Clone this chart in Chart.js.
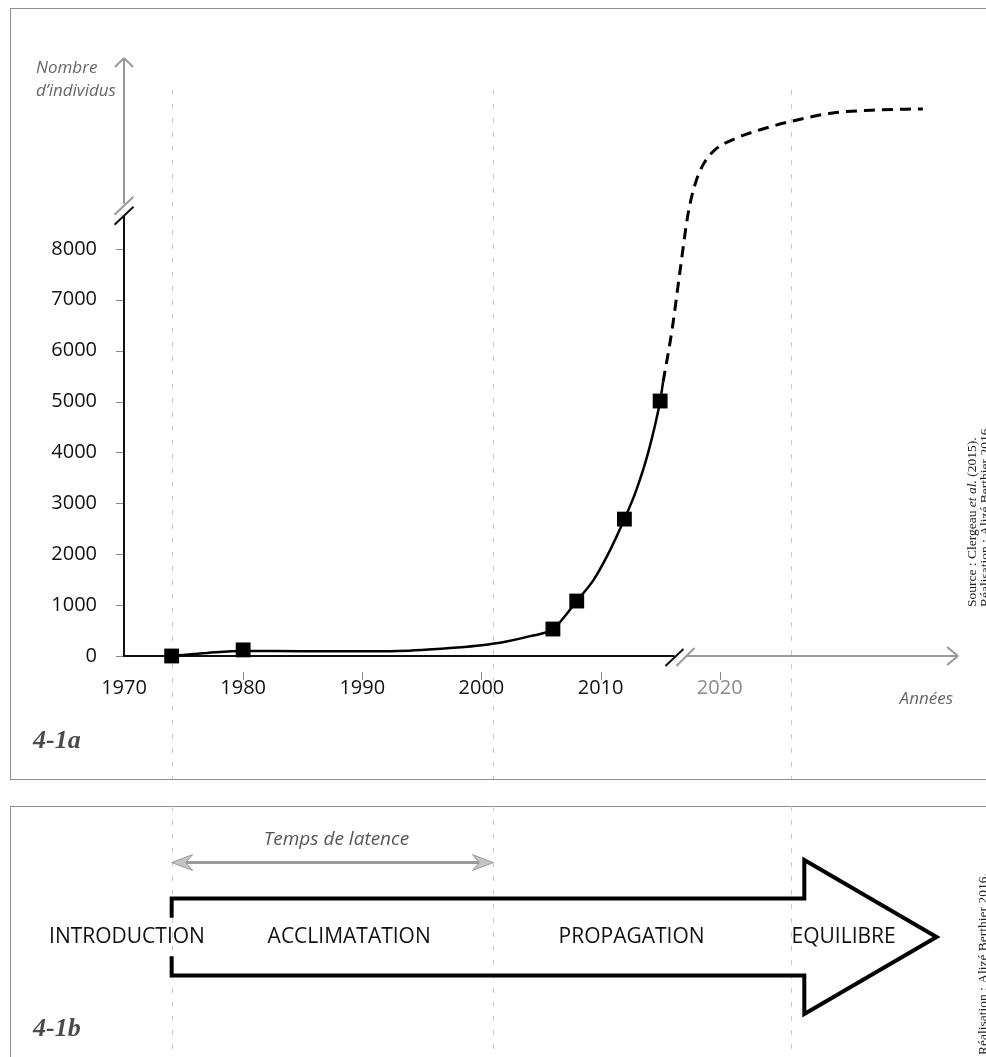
<!DOCTYPE html>
<html>
<head>
<meta charset="utf-8">
<script src="https://cdn.jsdelivr.net/npm/chart.js@4.4.1/dist/chart.umd.min.js"></script>
<style>
  html, body { margin: 0; padding: 0; background: #fff; }
  body { width: 986px; height: 1057px; position: relative; overflow: hidden; }
  .panel { position: absolute; left: 10px; width: 1000px; border: 1px solid #8e8e8e; }
  #p1 { top: 8px; height: 770px; }
  #p2 { top: 806px; height: 300px; }
  canvas { position: absolute; left: 0; }
  #growth { top: 0; }
  #phases { top: 780px; }
</style>
</head>
<body>
<div class="panel" id="p1"></div>
<div class="panel" id="p2"></div>
<canvas id="growth" width="986" height="780"></canvas>
<canvas id="phases" width="986" height="277"></canvas>
<script>
// counted individuals (squares)
const obsYears = [1974, 1980, 2006, 2008, 2012, 2015];
const obsCounts = [0, 120, 530, 1080, 2690, 5010];

// fitted curve
const fitYears = [1974, 1977, 1980, 1985, 1990, 1993, 1995, 1998, 2000, 2002, 2004, 2006, 2007, 2008, 2009.4, 2010.8, 2012, 2013, 2014, 2015, 2015.25];
const fitCounts = [0, 60, 100, 92, 92, 100, 120, 165, 210, 280, 385, 530, 780, 1080, 1490, 2080, 2690, 3260, 4000, 5010, 5390];

// projection (dashed)
const projYears = [2015.25, 2016.0, 2016.66, 2017.33, 2017.92, 2018.6, 2019.6, 2021.44, 2023.4, 2025.9, 2029.5, 2033.4, 2037.05];
const projCounts = [5390, 6410, 7550, 8670, 9260, 9650, 9945, 10180, 10340, 10500, 10670, 10730, 10750];

const xTicks = [1970, 1980, 1990, 2000, 2010, 2020];
const yTicks = [0, 1000, 2000, 3000, 4000, 5000, 6000, 7000, 8000];

// introduction, end of latency, equilibrium
const gridYears = [1974, 2001, 2026];
const latencySpan = [1974, 2001];

const phaseNames = ['INTRODUCTION', 'ACCLIMATATION', 'PROPAGATION', 'EQUILIBRE'];
const phaseYears = [1970.25, 1988.9, 2012.6, 2030.4];

// arrow outline for the lower panel (years / relative height)
const arrowYears = [1974, 1974, 2027.1, 2027.1, 2038.2, 2027.1, 2027.1, 1974, 1974];
const arrowLevels = [15, 30, 30, 60, 0, -60, -30, -30, -15];

const yBreakAt = 8650;
const xBreakAt = 2016.2;

const GRID = '#c9c9c9';
const GREY = '#9a9a9a';
const LABEL_GREY = '#666';

Chart.defaults.font.family = "'Open Sans', sans-serif";

function pts(xs, ys) {
  return xs.map(function(v, i) { return { x: v, y: ys[i] }; });
}

function line(ctx, a, b, c, d) {
  ctx.beginPath();
  ctx.moveTo(a, b);
  ctx.lineTo(c, d);
  ctx.stroke();
}

function yearLines(chart, top, bottom) {
  const ctx = chart.ctx;
  const x = chart.scales.x;
  ctx.save();
  ctx.strokeStyle = GRID;
  ctx.lineWidth = 1;
  ctx.setLineDash([5, 9]);
  gridYears.forEach(function(yr) {
    const px = Math.round(x.getPixelForValue(yr)) + 0.5;
    line(ctx, px, top, px, bottom);
  });
  ctx.restore();
}

function rotatedText(ctx, px, py, parts) {
  ctx.save();
  ctx.translate(px, py);
  ctx.rotate(-Math.PI / 2);
  ctx.fillStyle = '#222';
  ctx.textBaseline = 'middle';
  ctx.textAlign = 'left';
  let off = 0;
  parts.forEach(function(p) {
    ctx.font = (p[1] ? 'italic ' : '') + "13.5px 'Liberation Serif', serif";
    ctx.fillText(p[0], off, 0);
    off += ctx.measureText(p[0]).width;
  });
  ctx.restore();
}

const growthDecor = {
  id: 'growthDecor',
  beforeDatasetsDraw: function(chart) {
    const ctx = chart.ctx;
    const x = chart.scales.x;
    const y = chart.scales.y;
    yearLines(chart, 90, 779);

    const x0 = x.getPixelForValue(1970);
    const y0 = y.getPixelForValue(0);
    const yb = y.getPixelForValue(yBreakAt);
    const xb = x.getPixelForValue(xBreakAt);

    ctx.save();
    ctx.lineCap = 'butt';
    // tick marks
    ctx.strokeStyle = '#8a8a8a';
    ctx.lineWidth = 1;
    yTicks.forEach(function(v) {
      const py = Math.round(y.getPixelForValue(v)) + 0.5;
      line(ctx, x0 - 8, py, x0, py);
    });
    xTicks.forEach(function(v) {
      if (v === 1970) return;
      const px = Math.round(x.getPixelForValue(v)) + 0.5;
      line(ctx, px, y0 + 16, px, y0 + 24);
    });

    // grey continuations beyond the breaks
    ctx.strokeStyle = GREY;
    ctx.lineWidth = 2;
    line(ctx, x0, yb - 12, x0, y.top);
    line(ctx, xb + 12, y0, x.right, y0);
    line(ctx, x0 - 9, y.top + 9, x0, y.top);
    line(ctx, x0, y.top, x0 + 9, y.top + 9);
    line(ctx, x.right - 11, y0 - 9, x.right, y0);
    line(ctx, x.right, y0, x.right - 11, y0 + 9);
    line(ctx, x0 - 9.5, yb - 1, x0 + 9.5, yb - 19);
    line(ctx, xb + 2, y0 + 10, xb + 20, y0 - 8);

    // black axes
    ctx.strokeStyle = '#111';
    line(ctx, x0, y0 + 1, x0, yb);
    line(ctx, x0 - 1, y0, xb, y0);
    line(ctx, x0 - 9.5, yb + 9, x0 + 9.5, yb - 9);
    line(ctx, xb - 9, y0 + 10, xb + 9, y0 - 7);
    ctx.restore();
  },
  afterDraw: function(chart) {
    const ctx = chart.ctx;
    ctx.save();
    ctx.fillStyle = LABEL_GREY;
    ctx.textBaseline = 'middle';
    ctx.textAlign = 'left';
    ctx.font = "italic 17px 'Open Sans', sans-serif";
    ctx.fillText('Nombre', 36, 68);
    ctx.fillText('d\u2019individus', 36, 91);
    ctx.textAlign = 'right';
    ctx.font = "italic 17px 'Open Sans', sans-serif";
    ctx.fillText('Années', 953, 699);
    ctx.textAlign = 'left';
    ctx.fillStyle = '#4a4a4a';
    ctx.font = "bold italic 26px 'Liberation Serif', serif";
    ctx.fillText('4-1a', 33, 741);
    ctx.restore();
    rotatedText(ctx, 972, 607, [['Source : Clergeau ', false], ['et al.', true], [' (2015).', false]]);
    rotatedText(ctx, 985, 607, [['Réalisation : Alizé Berthier 2016.', false]]);
  }
};

new Chart(document.getElementById('growth'), {
  type: 'scatter',
  data: {
    datasets: [
      {
        label: 'Effectifs',
        data: pts(obsYears, obsCounts),
        pointStyle: 'rect',
        pointRadius: 10.5,
        backgroundColor: '#000',
        borderColor: '#000',
        borderWidth: 0,
        clip: false
      },
      {
        label: 'Courbe',
        data: pts(fitYears, fitCounts),
        showLine: true,
        cubicInterpolationMode: 'monotone',
        borderColor: '#000',
        borderWidth: 2.5,
        pointRadius: 0,
        clip: false
      },
      {
        label: 'Projection',
        data: pts(projYears, projCounts),
        showLine: true,
        cubicInterpolationMode: 'monotone',
        borderColor: '#000',
        borderWidth: 3,
        borderDash: [11, 7],
        pointRadius: 0,
        clip: false
      }
    ]
  },
  options: {
    responsive: false,
    animation: false,
    layout: { padding: { top: 58, right: 28, left: 0, bottom: 0 } },
    plugins: { legend: { display: false }, tooltip: { enabled: false } },
    scales: {
      x: {
        type: 'linear',
        min: 1970,
        max: 2040,
        border: { display: false },
        grid: { display: false, drawTicks: false },
        afterBuildTicks: function(s) { s.ticks = xTicks.map(function(v) { return { value: v }; }); },
        afterFit: function(s) { s.height = 124; },
        ticks: {
          padding: 20,
          font: { size: 20 },
          color: function(c) { return c.tick.value > xBreakAt ? '#8a8a8a' : '#111'; },
          callback: function(v) { return String(v); }
        }
      },
      y: {
        min: 0,
        max: 11750,
        border: { display: false },
        grid: { display: false, drawTicks: false },
        afterBuildTicks: function(s) { s.ticks = yTicks.map(function(v) { return { value: v }; }); },
        afterFit: function(s) { s.width = 124; },
        ticks: {
          padding: 27,
          font: { size: 20 },
          color: '#111',
          callback: function(v) { return String(v); }
        }
      }
    }
  },
  plugins: [growthDecor]
});

const phaseDecor = {
  id: 'phaseDecor',
  beforeDatasetsDraw: function(chart) {
    const ctx = chart.ctx;
    const x = chart.scales.x;
    const y = chart.scales.y;
    yearLines(chart, 26, 277);

    // latency double arrow
    const xa = x.getPixelForValue(latencySpan[0]);
    const xz = x.getPixelForValue(latencySpan[1]);
    const ya = y.getPixelForValue(58);
    ctx.save();
    ctx.strokeStyle = '#9a9a9a';
    ctx.lineWidth = 3;
    line(ctx, xa + 8, ya, xz - 8, ya);
    ctx.fillStyle = '#c4c4c4';
    ctx.strokeStyle = '#9a9a9a';
    ctx.lineWidth = 1;
    [[xa, 1], [xz, -1]].forEach(function(h) {
      const tx = h[0], d = h[1];
      ctx.beginPath();
      ctx.moveTo(tx, ya);
      ctx.lineTo(tx + d * 21, ya - 8);
      ctx.lineTo(tx + d * 14, ya);
      ctx.lineTo(tx + d * 21, ya + 8);
      ctx.closePath();
      ctx.fill();
      ctx.stroke();
    });
    ctx.fillStyle = '#555';
    ctx.textAlign = 'center';
    ctx.textBaseline = 'middle';
    ctx.font = "italic 19px 'Open Sans', sans-serif";
    ctx.fillText('Temps de latence', (xa + xz) / 2 + 4, ya - 23);
    ctx.restore();
  },
  afterDraw: function(chart) {
    const ctx = chart.ctx;
    const x = chart.scales.x;
    const y = chart.scales.y;
    ctx.save();
    ctx.fillStyle = '#111';
    ctx.textAlign = 'center';
    ctx.textBaseline = 'middle';
    ctx.font = "21px 'Open Sans', sans-serif";
    phaseNames.forEach(function(name, i) {
      ctx.fillText(name, x.getPixelForValue(phaseYears[i]), y.getPixelForValue(0));
    });
    ctx.textAlign = 'left';
    ctx.fillStyle = '#4a4a4a';
    ctx.font = "bold italic 26px 'Liberation Serif', serif";
    ctx.fillText('4-1b', 33, 249);
    ctx.restore();
    rotatedText(ctx, 983, 275, [['Réalisation : Alizé Berthier 2016.', false]]);
  }
};

new Chart(document.getElementById('phases'), {
  type: 'scatter',
  data: {
    datasets: [{
      label: 'Phases',
      data: pts(arrowYears, arrowLevels),
      showLine: true,
      tension: 0,
      borderColor: '#000',
      borderWidth: 4,
      borderJoinStyle: 'miter',
      borderCapStyle: 'butt',
      pointRadius: 0,
      clip: false
    }]
  },
  options: {
    responsive: false,
    animation: false,
    layout: { padding: { top: 80, right: 28, left: 124, bottom: 43 } },
    plugins: { legend: { display: false }, tooltip: { enabled: false } },
    scales: {
      x: { type: 'linear', min: 1970, max: 2040, display: false },
      y: { min: -60, max: 60, display: false }
    }
  },
  plugins: [phaseDecor]
});
</script>
</body>
</html>
